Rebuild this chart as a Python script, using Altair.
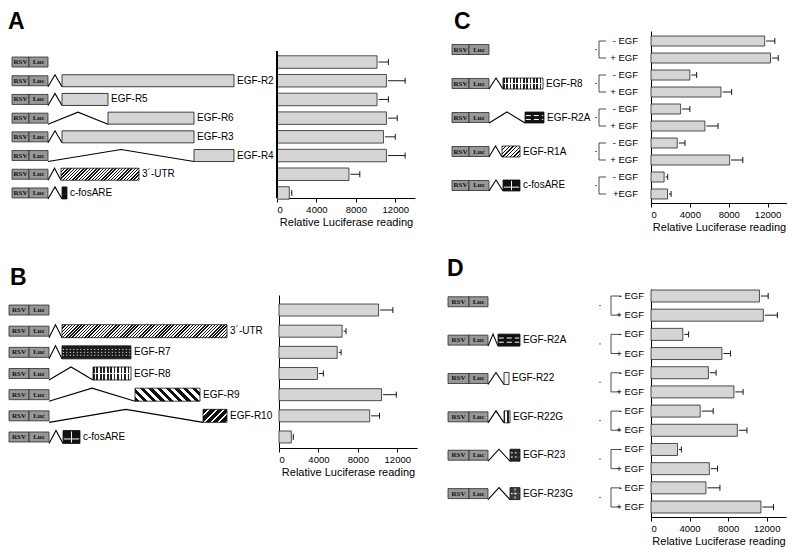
import altair as alt
import pandas as pd

FONT = "Liberation Sans"

# ===== Panel A =====
A_names = [None, "EGF-R2", "EGF-R5", "EGF-R6", "EGF-R3", "EGF-R4", "3´-UTR", "c-fosARE"]
A_start = [None, 54, 54, 100, 54, 186, 53, 54]
A_end = [None, 226, 100, 186, 186, 226, 131, 59]
A_kind = [None, "stipple", "stipple", "stipple", "stipple", "stipple", "hatch", "solid"]
A_value = [10150, 11100, 10150, 11100, 10800, 11100, 7300, 1250]
A_sd = [1150, 1900, 1150, 1100, 1200, 1900, 1100, 250]

# ===== Panel B =====
B_names = [None, "3´-UTR", "EGF-R7", "EGF-R8", "EGF-R9", "EGF-R10", "c-fosARE"]
B_start = [None, 54, 54, 85, 127, 195, 55]
B_end = [None, 219, 123, 123, 192, 219, 72]
B_kind = [None, "hatch", "dots", "grid", "bold", "zigzag", "cross"]
B_value = [10100, 6400, 5900, 3900, 10400, 9200, 1250]
B_sd = [1450, 400, 400, 600, 1500, 1000, 200]

# ===== Panel C =====
C_names = [None, "EGF-R8", "EGF-R2A", "EGF-R1A", "c-fosARE"]
C_start = [None, 62, 84, 61, 62]
C_end = [None, 102, 103, 79, 79]
C_kind = [None, "grid", "dash", "hatchlight", "cross"]
C_egf = ["- EGF", "+ EGF", "- EGF", "+ EGF", "- EGF", "+ EGF", "- EGF", "+ EGF", "- EGF", "+EGF"]
C_value = [11700, 12300, 4000, 7200, 3050, 5550, 2700, 8100, 1350, 1700]
C_sd = [1050, 800, 700, 1100, 950, 1350, 800, 1350, 370, 370]

# ===== Panel D =====
D_names = [None, "EGF-R2A", "EGF-R22", "EGF-R22G", "EGF-R23", "EGF-R23G"]
D_start = [None, 57, 63, 63, 69, 69]
D_end = [None, 79, 68, 69, 79, 79]
D_kind = [None, "dash", "light", "vlines", "blob", "check"]
D_egf = ["- EGF", "+ EGF"] * 6
D_value = [11250, 11650, 3300, 7350, 5950, 8600, 5100, 8950, 2750, 6050, 5700, 11400]
D_sd = [900, 1450, 600, 900, 800, 950, 1350, 1000, 400, 850, 1450, 1300]


def stripes(W, H, period, frac, kind, dark="#111111", light="#ffffff"):
    if kind == "|":
        n = max(1, round(W / period))
        x1, y1, x2, y2 = 0, 0, 1, 0
    else:
        n = max(1, round((W + H) / period))
        s = (W + H) / (W * W + H * H)
        if kind == "/":
            x1, y1, x2, y2 = 0, 0, s * W, s * H
        else:
            x1, y1, x2, y2 = 0, 1, s * W, 1 - s * H
    stops = []
    for i in range(n):
        a, b, c = i / n, (i + frac) / n, (i + 1) / n
        stops += [alt.GradientStop(color=dark, offset=a), alt.GradientStop(color=dark, offset=b),
                  alt.GradientStop(color=light, offset=b), alt.GradientStop(color=light, offset=min(c, 1))]
    return alt.LinearGradient(gradient="linear", stops=stops, x1=x1, y1=y1, x2=x2, y2=y2)


def pattern(kind, W, H):
    """returns fill and overlay line list (type, position fraction, dash)"""
    if kind == "stipple":
        return "#d5d5d5", []
    if kind == "solid":
        return "#111111", []
    if kind == "hatch":
        return stripes(W, H, 3.2, 0.45, "/"), []
    if kind == "hatchlight":
        return stripes(W, H, 3.6, 0.35, "/"), []
    if kind == "bold":
        return stripes(W, H, 8.5, 0.5, "\\"), []
    if kind == "grid":
        return stripes(W, H, 3.4, 0.5, "|", dark="#222222"), [("h", 0.0, None)]
    if kind == "dots":
        return "#1c1c1c", [("h", -0.45, [1, 2.5]), ("h", 0.0, [1, 2.5]), ("h", 0.45, [1, 2.5])]
    if kind == "zigzag":
        return stripes(W, H, 7, 0.72, "/"), []
    if kind == "cross":
        return "#111111", [("v", 0.0, None), ("h", 0.3, None)]
    if kind == "dash":
        return "#111111", [("h", -0.35, [5, 3]), ("h", 0.35, [5, 3])]
    if kind == "light":
        return "#f1f1f1", []
    if kind == "vlines":
        return stripes(W, H, 1.6, 0.5, "|", dark="#222222"), []
    if kind == "blob":
        return "#262626", [("h", -0.4, [2, 2]), ("h", 0.3, [2, 2])]
    if kind == "check":
        return "#3c3c3c", [("h", 0.0, [2, 2]), ("v", 0.0, [2, 2])]
    return "#999999", []


def schematic(names, starts, ends, kinds, rows, width, height, dom, rsv, luc,
              box_h, ins_h, egf=None, bracket=None):
    step = height / (dom[1] - dom[0])
    xs = alt.Scale(domain=[0, width], nice=False, zero=False)
    ys = alt.Scale(domain=dom, reverse=True, nice=False, zero=False)

    def X(f):
        return alt.X(f, type="quantitative", scale=xs, axis=None)

    def Y(f):
        return alt.Y(f, type="quantitative", scale=ys, axis=None)

    bh = box_h / 2 / step
    ih = ins_h / 2 / step
    layers = []
    recs = []
    for r in rows:
        recs.append(dict(row=r, x0=rsv[0], x1=rsv[1], t="RSV"))
        recs.append(dict(row=r, x0=luc[0], x1=luc[1], t="Luc"))
    pdf = pd.DataFrame(recs)
    pdf["y0"] = pdf.row - bh
    pdf["y1"] = pdf.row + bh
    pdf["cx"] = (pdf.x0 + pdf.x1) / 2
    layers.append(alt.Chart(pdf).mark_rect(fill="#979797", stroke="#2b2b2b", strokeWidth=0.8)
                  .encode(x=X("x0"), x2="x1", y=Y("y0"), y2="y1"))
    layers.append(alt.Chart(pdf).mark_text(font="Liberation Serif", fontSize=7, color="#111111",
                                           fontWeight="bold")
                  .encode(x=X("cx"), y=Y("row"), text="t:N"))
    crecs = []
    for r, s in zip(rows, starts):
        if s is None:
            continue
        crecs += [dict(row=r, k=0, x=luc[1], y=r + ih), dict(row=r, k=1, x=(luc[1] + s) / 2, y=r - ih),
                  dict(row=r, k=2, x=s, y=r + ih)]
    cdf = pd.DataFrame(crecs)
    layers.append(alt.Chart(cdf).mark_line(color="black", strokeWidth=1.1)
                  .encode(x=X("x"), y=Y("y"), detail="row:N", order="k:Q"))
    lrecs = []
    for r, s, e, k, nm in zip(rows, starts, ends, kinds, names):
        if s is None:
            continue
        d = pd.DataFrame([dict(row=r, x0=s, x1=e, y0=r - ih, y1=r + ih)])
        fill, over = pattern(k, e - s, ins_h)
        layers.append(alt.Chart(d).mark_rect(fill=fill, stroke="#111111", strokeWidth=0.8)
                      .encode(x=X("x0"), x2="x1", y=Y("y0"), y2="y1"))
        for typ, f, dash in over:
            kw = dict(color="white", strokeWidth=1)
            if dash:
                kw["strokeDash"] = dash
            if typ == "h":
                od = pd.DataFrame([dict(x0=s + 0.8, x1=e - 0.8, y=r + f * ih)])
                layers.append(alt.Chart(od).mark_rule(**kw).encode(x=X("x0"), x2="x1", y=Y("y")))
            else:
                od = pd.DataFrame([dict(x=(s + e) / 2, y0=r - ih * 0.85, y1=r + ih * 0.85)])
                layers.append(alt.Chart(od).mark_rule(**kw).encode(x=X("x"), y=Y("y0"), y2="y1"))
        lrecs.append(dict(row=r, x=e, t=nm))
    ldf = pd.DataFrame(lrecs)
    layers.append(alt.Chart(ldf).mark_text(font=FONT, fontSize=10, align="left", baseline="middle",
                                           dx=3, color="black")
                  .encode(x=X("x"), y=Y("row"), text="t:N"))
    if egf is not None:
        xd, xv, xh, xl = bracket
        brows = list(range(1, len(egf) + 1))
        edf = pd.DataFrame(dict(row=brows, t=egf, x=[xl] * len(egf)))
        layers.append(alt.Chart(edf).mark_text(font=FONT, fontSize=9.5, align="right",
                                               baseline="middle", color="black")
                      .encode(x=X("x"), y=Y("row"), text="t:N"))
        brecs, drecs = [], []
        for i in range(len(egf) // 2):
            m, p = 2 * i + 1, 2 * i + 2
            brecs += [dict(g=i, k=0, x=xh, y=m), dict(g=i, k=1, x=xv, y=m),
                      dict(g=i, k=2, x=xv, y=p), dict(g=i, k=3, x=xh, y=p)]
            drecs.append(dict(x0=xd, x1=xd + 2, y=(m + p) / 2))
        layers.append(alt.Chart(pd.DataFrame(brecs)).mark_line(color="#222222", strokeWidth=0.8)
                      .encode(x=X("x"), y=Y("y"), detail="g:N", order="k:Q"))
        layers.append(alt.Chart(pd.DataFrame(drecs)).mark_rule(color="#444444", strokeWidth=0.8)
                      .encode(x=X("x0"), x2="x1", y=Y("y")))
    return alt.layer(*layers).properties(width=width, height=height)


def barchart(values, sds, width, height, dom, bar_h, cap_h=6, axis_span=None):
    step = height / (dom[1] - dom[0])
    hb = bar_h / 2 / step
    hc = cap_h / 2 / step
    gap = 1.5 * 14000 / width
    rows = list(range(1, len(values) + 1))
    df = pd.DataFrame({"row": rows, "v": values, "sd": sds})
    df["z"] = 0
    df["e0"] = df.v + gap
    df["hi"] = df.v + df.sd
    df["y0"] = df.row - hb
    df["y1"] = df.row + hb
    df["c0"] = df.row - hc
    df["c1"] = df.row + hc
    xs = alt.Scale(domain=[0, 14000], nice=False, zero=True)
    ys = alt.Scale(domain=dom, reverse=True, nice=False, zero=False)
    xaxis = alt.Axis(values=[0, 4000, 8000, 12000], format="d", title="Relative Luciferase reading",
                     grid=False, tickSize=4, tickColor="black", domainColor="black",
                     labelColor="black", titleColor="black", labelFont=FONT, titleFont=FONT,
                     labelFontSize=9.5, titleFontSize=11, titleFontWeight="normal",
                     labelPadding=2, titlePadding=3, domainWidth=1, tickWidth=1)
    yaxis = alt.Axis(labels=False, ticks=False, title=None, grid=False, domainColor="black",
                     domainWidth=1, domain=axis_span is None)
    bars = alt.Chart(df).mark_rect(fill="#d5d5d5", stroke="#262626", strokeWidth=0.8).encode(
        x=alt.X("z:Q", scale=xs, axis=xaxis), x2="v",
        y=alt.Y("y0:Q", scale=ys, axis=yaxis), y2="y1")
    err = alt.Chart(df).mark_rule(color="black", strokeWidth=0.9).encode(
        x=alt.X("e0:Q", scale=xs), x2="hi", y=alt.Y("row:Q", scale=ys))
    cap = alt.Chart(df).mark_rule(color="black", strokeWidth=0.9).encode(
        x=alt.X("hi:Q", scale=xs), y=alt.Y("c0:Q", scale=ys), y2="c1")
    layers = [bars, err, cap]
    if axis_span is not None:
        layers.append(alt.Chart(df).mark_rule(color="black", strokeWidth=1).encode(
            x=alt.datum(0), y=alt.datum(axis_span[0]), y2=alt.datum(axis_span[1])))
    return alt.layer(*layers).properties(width=width, height=height)


def panel(schem, bars, letter, offset, dx=0, dy=0):
    return alt.hconcat(schem, bars, spacing=0,
                       title=alt.TitleParams(letter, anchor="start", font=FONT, fontSize=23,
                                             fontWeight="bold", color="black", offset=offset,
                                             dx=dx, dy=dy))


# y domains (row units); A's view starts 20 px above its axis line
domA_axis = [0.41, 8.27]
stepA = 147 / (domA_axis[1] - domA_axis[0])
domA = [domA_axis[0] - 20 / stepA, domA_axis[1]]
domB = [0.29, 7.52]
domC = [0.41, 10.53]
domD = [0.635, 12.52]

sA = schematic(A_names, A_start, A_end, A_kind, list(range(1, 9)), 268, 167, domA,
               (4, 21), (21, 40), 10, 12)
bA = barchart(A_value, A_sd, 138, 167, domA, 12.5, axis_span=domA_axis)
sB = schematic(B_names, B_start, B_end, B_kind, list(range(1, 8)), 270, 153, domB,
               (1, 21), (21, 41), 10, 13)
bB = barchart(B_value, B_sd, 138, 153, domB, 12)
sC = schematic(C_names, C_start, C_end, C_kind, [1.5, 3.5, 5.5, 7.5, 9.5], 209, 172, domC,
               (11, 28), (28, 48), 10, 11, egf=C_egf, bracket=(154, 158, 165, 197))
bC = barchart(C_value, C_sd, 136, 172, domC, 10)
sD = schematic(D_names, D_start, D_end, D_kind, [1.3, 3.3, 5.3, 7.3, 9.3, 11.3], 209, 228, domD,
               (7, 28), (28, 47), 10, 12, egf=D_egf, bracket=(158, 170, 180, 203))
bD = barchart(D_value, D_sd, 135, 228, domD, 12)

pA = panel(sA, bA, "A", -3)
pB = panel(sB, bB, "B", 5, dx=2)
pC = panel(sC, bC, "C", -3, dx=13)
pD = panel(sD, bD, "D", 8, dx=6)

left = alt.vconcat(pA, pB, spacing=39)
right = alt.vconcat(pC, pD, spacing=25)
chart = (alt.hconcat(left, right, spacing=24)
         .properties(padding={"left": 0, "top": 3, "right": 0, "bottom": 0})
         .configure_view(stroke=None))

chart.save("out.html", embed_options={"renderer": "svg", "actions": False})
